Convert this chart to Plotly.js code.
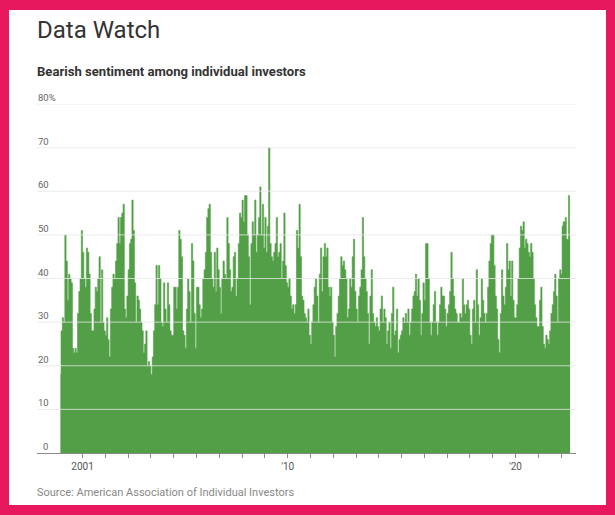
<!DOCTYPE html>
<html>
<head>
<meta charset="utf-8">
<script src="https://cdn.plot.ly/plotly-3.0.1.min.js"></script>
<style>
    html, body { margin: 0; padding: 0; width: 615px; height: 515px; background: #e8185e; overflow: hidden; }
    #chart { position: absolute; left: 9px; top: 10px; width: 597px; height: 495px; background: #fff; }
</style>
</head>
<body>
<div id="chart"></div>
<script>
// ── Bearish sentiment (AAII), ~3 readings a month ──
const years = [2000, 2001, 2002, 2003, 2004, 2005, 2006, 2007, 2008, 2009, 2010,
               2011, 2012, 2013, 2014, 2015, 2016, 2017, 2018, 2019, 2020, 2021, 2022];

const bear2000 = [18, 28, 31, 30, 50, 44, 35, 41, 40, 39, 24, 23, 24, 23, 32, 37, 40, 51];
const bear2001 = [46, 40, 38, 47, 46, 41, 32, 28, 28, 33, 38, 37, 40, 45, 30, 42, 30, 28];
const bear2002 = [27, 31, 26, 22, 33, 38, 41, 40, 44, 48, 54, 48, 54, 55, 57, 33, 31, 36];
const bear2003 = [42, 48, 49, 58, 51, 39, 30, 36, 35, 33, 30, 28, 23, 25, 28, 20, 21, 20];
const bear2004 = [18, 22, 28, 34, 43, 34, 43, 40, 30, 29, 39, 33, 30, 39, 34, 28, 27, 27];
const bear2005 = [38, 38, 33, 38, 51, 49, 45, 28, 27, 24, 33, 40, 37, 30, 48, 44, 32, 24];
const bear2006 = [38, 38, 34, 31, 33, 40, 42, 46, 54, 56, 57, 46, 40, 38, 46, 37, 47, 42];
const bear2007 = [38, 32, 40, 44, 41, 40, 54, 48, 42, 37, 38, 45, 46, 36, 40, 48, 55, 54];
const bear2008 = [58, 53, 59, 59, 50, 45, 34, 48, 53, 50, 58, 46, 50, 54, 61, 50, 57, 47];
const bear2009 = [54, 46, 52, 70, 48, 45, 44, 46, 48, 54, 45, 46, 48, 40, 44, 55, 43, 39];
const bear2010 = [38, 40, 36, 33, 34, 32, 34, 51, 47, 57, 45, 36, 35, 32, 31, 30, 33, 27];
const bear2011 = [25, 30, 34, 38, 40, 36, 30, 41, 47, 37, 45, 48, 45, 47, 38, 36, 38, 30];
const bear2012 = [27, 22, 29, 32, 36, 40, 45, 43, 44, 42, 40, 31, 33, 40, 38, 45, 49, 37];
const bear2013 = [33, 30, 36, 38, 42, 54, 45, 40, 37, 32, 25, 36, 42, 32, 30, 29, 31, 29];
const bear2014 = [28, 33, 36, 30, 33, 31, 25, 28, 30, 24, 32, 38, 27, 28, 33, 23, 26, 27];
const bear2015 = [28, 31, 30, 32, 30, 33, 27, 30, 33, 36, 37, 41, 36, 40, 35, 27, 32, 39];
const bear2016 = [35, 48, 48, 40, 30, 27, 30, 34, 37, 30, 27, 30, 34, 38, 36, 36, 33, 29];
const bear2017 = [32, 34, 37, 46, 40, 36, 33, 32, 30, 30, 32, 31, 40, 34, 32, 34, 35, 33];
const bear2018 = [27, 25, 33, 35, 30, 42, 34, 27, 31, 40, 35, 32, 30, 32, 38, 44, 48, 50];
const bear2019 = [50, 43, 36, 33, 26, 23, 32, 42, 36, 34, 38, 48, 42, 44, 36, 44, 35, 31];
const bear2020 = [31, 34, 40, 47, 52, 51, 53, 47, 49, 48, 46, 45, 48, 46, 40, 34, 31, 29];
const bear2021 = [29, 35, 38, 29, 25, 24, 27, 26, 25, 28, 32, 34, 37, 41, 36, 30, 40, 42];
const bear2022 = [41, 52, 53, 53, 54, 49, 49, 59, 50];
const dataEnd  = '2022-06-04';   // the series stops in late May 2022

const bearishByYear = [bear2000, bear2001, bear2002, bear2003, bear2004, bear2005, bear2006,
                       bear2007, bear2008, bear2009, bear2010, bear2011, bear2012, bear2013,
                       bear2014, bear2015, bear2016, bear2017, bear2018, bear2019, bear2020,
                       bear2021, bear2022];

const yTicks    = [0, 10, 20, 30, 40, 50, 60, 70, 80];
const yTickText = ['0', '10', '20', '30', '40', '50', '60', '70', '80%'];
const xTickYears = [2001, 2002, 2003, 2004, 2005, 2006, 2007, 2008, 2009, 2010, 2011,
                    2012, 2013, 2014, 2015, 2016, 2017, 2018, 2019, 2020, 2021, 2022];
const xTickText  = ['2001', '', '', '', '', '', '', '', '', "'10", '',
                    '', '', '', '', '', '', '', '', "'20", '', ''];

const GREEN = '#529f47';
const FONT  = 'Roboto, "Liberation Sans", Arial, sans-serif';

// spread each year's readings evenly across that year
const xs = [], ys = [];
years.forEach((yr, k) => {
    const vals  = bearishByYear[k];
    const start = Date.UTC(yr, 0, 1);
    const end   = yr === 2022 ? Date.parse(dataEnd) : Date.UTC(yr + 1, 0, 1);
    const step  = (end - start) / vals.length;
    vals.forEach((v, i) => {
        xs.push(new Date(start + (i + 0.5) * step).toISOString().slice(0, 10));
        ys.push(v);
    });
});

// gridlines sit on top of the green area
const gridShapes = yTicks.filter(v => v > 0).map(v => ({
    type: 'line', xref: 'paper', x0: 0, x1: 1, yref: 'y', y0: v, y1: v,
    line: { color: 'rgba(230,230,230,0.8)', width: 1 },
    layer: 'above',
}));

// y labels sit just above their gridline, flush left
const yLabels = yTicks.map((v, i) => ({
    text: yTickText[i], xref: 'paper', yref: 'y', x: 0, y: v,
    xanchor: 'left', yanchor: 'bottom', showarrow: false,
    xshift: v === 0 ? 4 : -1.5, yshift: -1,
    font: { family: FONT, size: 9.5, color: '#666' },
}));

Plotly.newPlot('chart', [{
    type: 'scatter',
    mode: 'lines',
    x: xs,
    y: ys,
    fill: 'tozeroy',
    fillcolor: GREEN,
    line: { color: GREEN, width: 0.6, shape: 'hvh' },
    hoverinfo: 'skip',
}], {
    width: 597,
    height: 495,
    margin: { l: 27.5, r: 29.5, t: 94, b: 52 },
    paper_bgcolor: '#fff',
    plot_bgcolor: '#fff',
    showlegend: false,
    font: { family: FONT, color: '#555' },
    xaxis: {
        type: 'date',
        range: ['1999-01-01', '2022-08-29'],
        tickvals: xTickYears.map(y => `${y}-01-01`),
        ticktext: xTickText,
        ticks: 'outside', ticklen: 4, tickcolor: '#8a8a8a', tickwidth: 1,
        showline: true, linecolor: '#8a8a8a', linewidth: 1,
        showgrid: false, zeroline: false,
        tickfont: { family: FONT, size: 10, color: '#555' },
        fixedrange: true,
    },
    yaxis: {
        range: [0, 80],
        showticklabels: false,
        ticks: '',
        showgrid: false, zeroline: false, showline: false,
        fixedrange: true,
    },
    shapes: gridShapes,
    annotations: yLabels.concat([
        {
            text: 'Data Watch', xref: 'paper', yref: 'paper', x: -0.004, y: 1.212,
            xanchor: 'left', yanchor: 'middle', showarrow: false,
            font: { family: FONT, size: 24, color: '#333' },
        },
        {
            text: '<b>Bearish sentiment among individual investors</b>',
            xref: 'paper', yref: 'paper', x: -0.004, y: 1.0917,
            xanchor: 'left', yanchor: 'middle', showarrow: false,
            font: { family: FONT, size: 13.1, color: '#333' },
        },
        {
            text: 'Source: American Association of Individual Investors',
            xref: 'paper', yref: 'paper', x: -0.004, y: -0.1138,
            xanchor: 'left', yanchor: 'middle', showarrow: false,
            font: { family: FONT, size: 11, color: '#888' },
        },
    ]),
}, { staticPlot: true, displayModeBar: false });
</script>
</body>
</html>
